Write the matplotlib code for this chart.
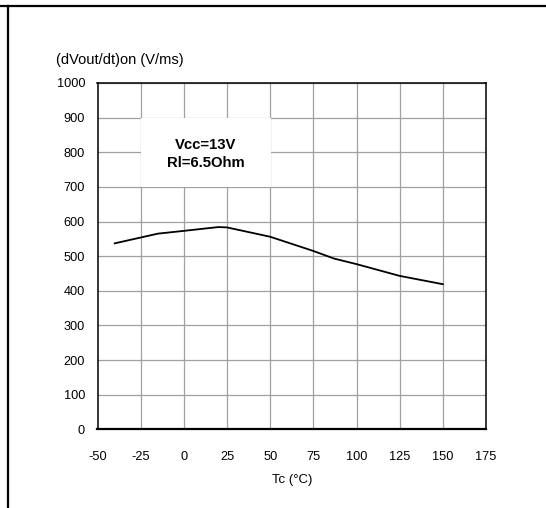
import matplotlib.pyplot as plt
from matplotlib.lines import Line2D
from matplotlib.patches import Rectangle

plt.rcParams['font.family'] = ['Liberation Sans', 'DejaVu Sans']
plt.rcParams['axes.unicode_minus'] = False

# data
tc = [-40, -15, 0, 20, 25, 50, 75, 87, 100, 125, 150]
dvdt_on = [537, 565, 573, 584, 583, 556, 515, 493, 477, 443, 419]

x_ticks = [-50, -25, 0, 25, 50, 75, 100, 125, 150, 175]
y_ticks = [0, 100, 200, 300, 400, 500, 600, 700, 800, 900, 1000]

W, H = 546, 508
fig = plt.figure(figsize=(W / 100, H / 100), dpi=100)

# outer frame lines (top and left only)
fig.add_artist(Line2D([0, 1], [1 - 5.7 / H, 1 - 5.7 / H], color='black', lw=1.6))
fig.add_artist(Line2D([8.3 / W, 8.3 / W], [0, 1 - 5.7 / H], color='black', lw=1.6))

ax = fig.add_axes([97.5 / W, 1 - 429.3 / H, (486 - 97.5) / W, (429.3 - 83) / H])
ax.set_xlim(-50, 175)
ax.set_ylim(0, 1000)
ax.set_xticks(x_ticks)
ax.set_yticks(y_ticks)
ax.tick_params(length=0, labelsize=9.2)
ax.tick_params(axis='y', pad=9)
ax.tick_params(axis='x', pad=15.5)
ax.grid(True, color='#a0a0a0', lw=0.9)
ax.set_axisbelow(True)
for s in ax.spines.values():
    s.set_linewidth(1.1)
ax.spines['bottom'].set_linewidth(1.6)

# white box behind the conditions text
ax.add_patch(Rectangle((-24.6, 701), 74.9, 198, facecolor='white',
                       edgecolor='none', zorder=1.5))
ax.text(12.5, 795, 'Vcc=13V\nRl=6.5Ohm', ha='center', va='center',
        fontsize=10.7, fontweight='bold', linespacing=1.45, zorder=3)

ax.plot(tc, dvdt_on, color='black', lw=1.3, zorder=4)

fig.text(56 / W, 1 - 60 / H, '(dVout/dt)on (V/ms)', ha='left', va='center', fontsize=10.5)
fig.text(291.7 / W, 1 - 480 / H, 'Tc (°C)', ha='center', va='center', fontsize=9.5)

fig.savefig('out.png', dpi=100)
